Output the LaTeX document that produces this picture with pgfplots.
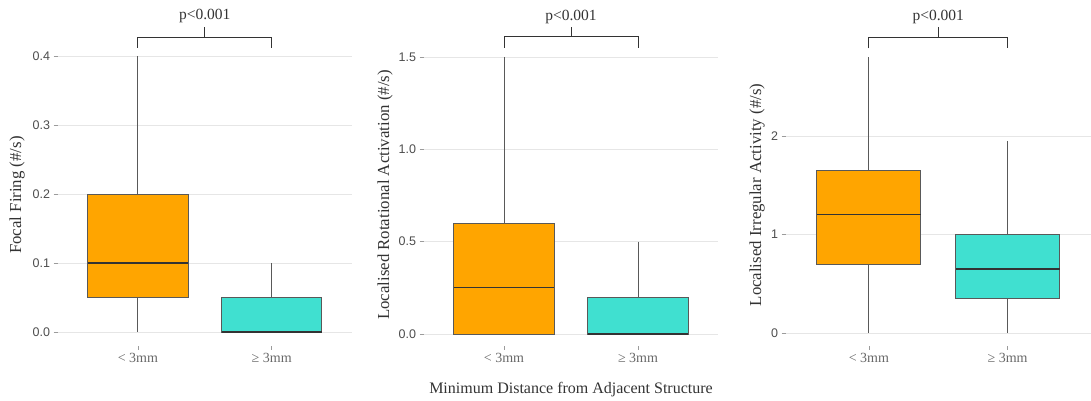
\documentclass[border=0pt]{standalone}
\usepackage{pgfplots}
\pgfplotsset{compat=1.18}
\usepgfplotslibrary{statistics}
\usepackage{fontspec}
\setmainfont{Liberation Serif}
\newfontfamily\arialf{Liberation Sans}
\definecolor{cOr}{HTML}{FFA500}
\definecolor{cTq}{HTML}{40E0D0}
\definecolor{cLine}{HTML}{595959}
\definecolor{cMed}{HTML}{333333}
\definecolor{cGrid}{HTML}{E6E6E6}
\definecolor{cTxt}{HTML}{4D4D4D}
\pgfplotsset{
 panel/.style={
  scale only axis, height=302pt, xmin=0.4, xmax=2.6,
  anchor=south west,
  axis x line*=bottom, axis y line*=left,
  axis line style={draw=none},
  xtick={1,2}, xticklabels={< 3mm, ≥ 3mm},
  ymajorgrids, grid style={cGrid, line width=0.8pt},
  tick style={cLine!60, line width=0.6pt},
  major tick length=4pt, tick align=outside,
  /pgf/number format/assume math mode=true,
  yticklabel style={font=\arialf\fontsize{12.5}{14}\selectfont, color=cTxt},
  xticklabel style={font=\fontsize{14}{16}\selectfont, color=cTxt!85},
  ylabel style={font=\fontsize{16.8}{19}\selectfont, color=cMed, at={(axis description cs:0,0.5)}, anchor=center},
  clip=false,
  boxplot/draw direction=y,
 },
 bx/.style={draw=cLine, line width=0.8pt},
}
\newcommand{\bracket}[4]{%
 \draw[cMed, line width=0.8pt] (axis cs:1,#1) |- (axis cs:2,#2) -- (axis cs:2,#1);
 \draw[cMed, line width=0.8pt] (axis cs:1.5,#2) -- (axis cs:1.5,#3);
 \node[font=\fontsize{15.5}{17}\selectfont, text=cMed] at (axis cs:1.5,#4) {p<0.001};
}
\begin{document}
\begin{tikzpicture}
\useasboundingbox (0,0) rectangle (1091pt,401pt);
% Panel 1
\begin{axis}[panel, at={(57.6pt,55pt)}, width=294.4pt,
  ymin=-0.0203, ymax=0.4174, ytick={0,0.1,0.2,0.3,0.4},
  yticklabel style={/pgf/number format/.cd, fixed, fixed zerofill, precision=1},
  ylabel={Focal Firing (\#/s)}, ylabel style={yshift=40.6pt}]
\addplot[bx, fill=cOr, boxplot prepared={draw direction=y, draw position=1, lower whisker=0, lower quartile=0.05, median=0.1, upper quartile=0.2, upper whisker=0.4, box extend=0.75, whisker extend=0, every median/.style={draw=cMed, line width=1.3pt}}] coordinates {};
\addplot[bx, fill=cTq, boxplot prepared={draw direction=y, draw position=2, lower whisker=0, lower quartile=0, median=0, upper quartile=0.05, upper whisker=0.1, box extend=0.75, whisker extend=0, every median/.style={draw=cMed, line width=1.3pt}}] coordinates {};
\bracket{0.4116}{0.4275}{0.442}{0.458}
\end{axis}
% Panel 2
\begin{axis}[panel, at={(423.6pt,55pt)}, width=294.8pt,
  ymin=-0.065, ymax=1.570, ytick={0,0.5,1,1.5},
  yticklabel style={/pgf/number format/.cd, fixed, fixed zerofill, precision=1},
  ylabel={Localised Rotational Activation (\#/s)}, ylabel style={yshift=38.6pt},
  xlabel={Minimum Distance from Adjacent Structure},
  xlabel style={font=\fontsize{16}{19}\selectfont, color=cMed, at={(axis description cs:0.5,0)}, anchor=center, yshift=-44pt}]
\addplot[bx, fill=cOr, boxplot prepared={draw direction=y, draw position=1, lower whisker=0, lower quartile=0, median=0.25, upper quartile=0.6, upper whisker=1.5, box extend=0.75, whisker extend=0, every median/.style={draw=cMed, line width=1.3pt}}] coordinates {};
\addplot[bx, fill=cTq, boxplot prepared={draw direction=y, draw position=2, lower whisker=0, lower quartile=0, median=0, upper quartile=0.2, upper whisker=0.5, box extend=0.75, whisker extend=0, every median/.style={draw=cMed, line width=1.3pt}}] coordinates {};
\bracket{1.55}{1.61}{1.664}{1.718}
\end{axis}
% Panel 3
\begin{axis}[panel, at={(785.6pt,55pt)}, width=305.2pt,
  ymin=-0.132, ymax=2.934, ytick={0,1,2},
  yticklabel style={/pgf/number format/.cd, fixed, precision=0},
  ylabel={Localised Irregular Activity (\#/s)}, ylabel style={yshift=28.6pt}]
\addplot[bx, fill=cOr, boxplot prepared={draw direction=y, draw position=1, lower whisker=0, lower quartile=0.7, median=1.2, upper quartile=1.65, upper whisker=2.8, box extend=0.75, whisker extend=0, every median/.style={draw=cMed, line width=1.3pt}}] coordinates {};
\addplot[bx, fill=cTq, boxplot prepared={draw direction=y, draw position=2, lower whisker=0, lower quartile=0.35, median=0.65, upper quartile=1.0, upper whisker=1.95, box extend=0.75, whisker extend=0, every median/.style={draw=cMed, line width=1.3pt}}] coordinates {};
\bracket{2.89}{3.00}{3.11}{3.21}
\end{axis}
\end{tikzpicture}
\end{document}
